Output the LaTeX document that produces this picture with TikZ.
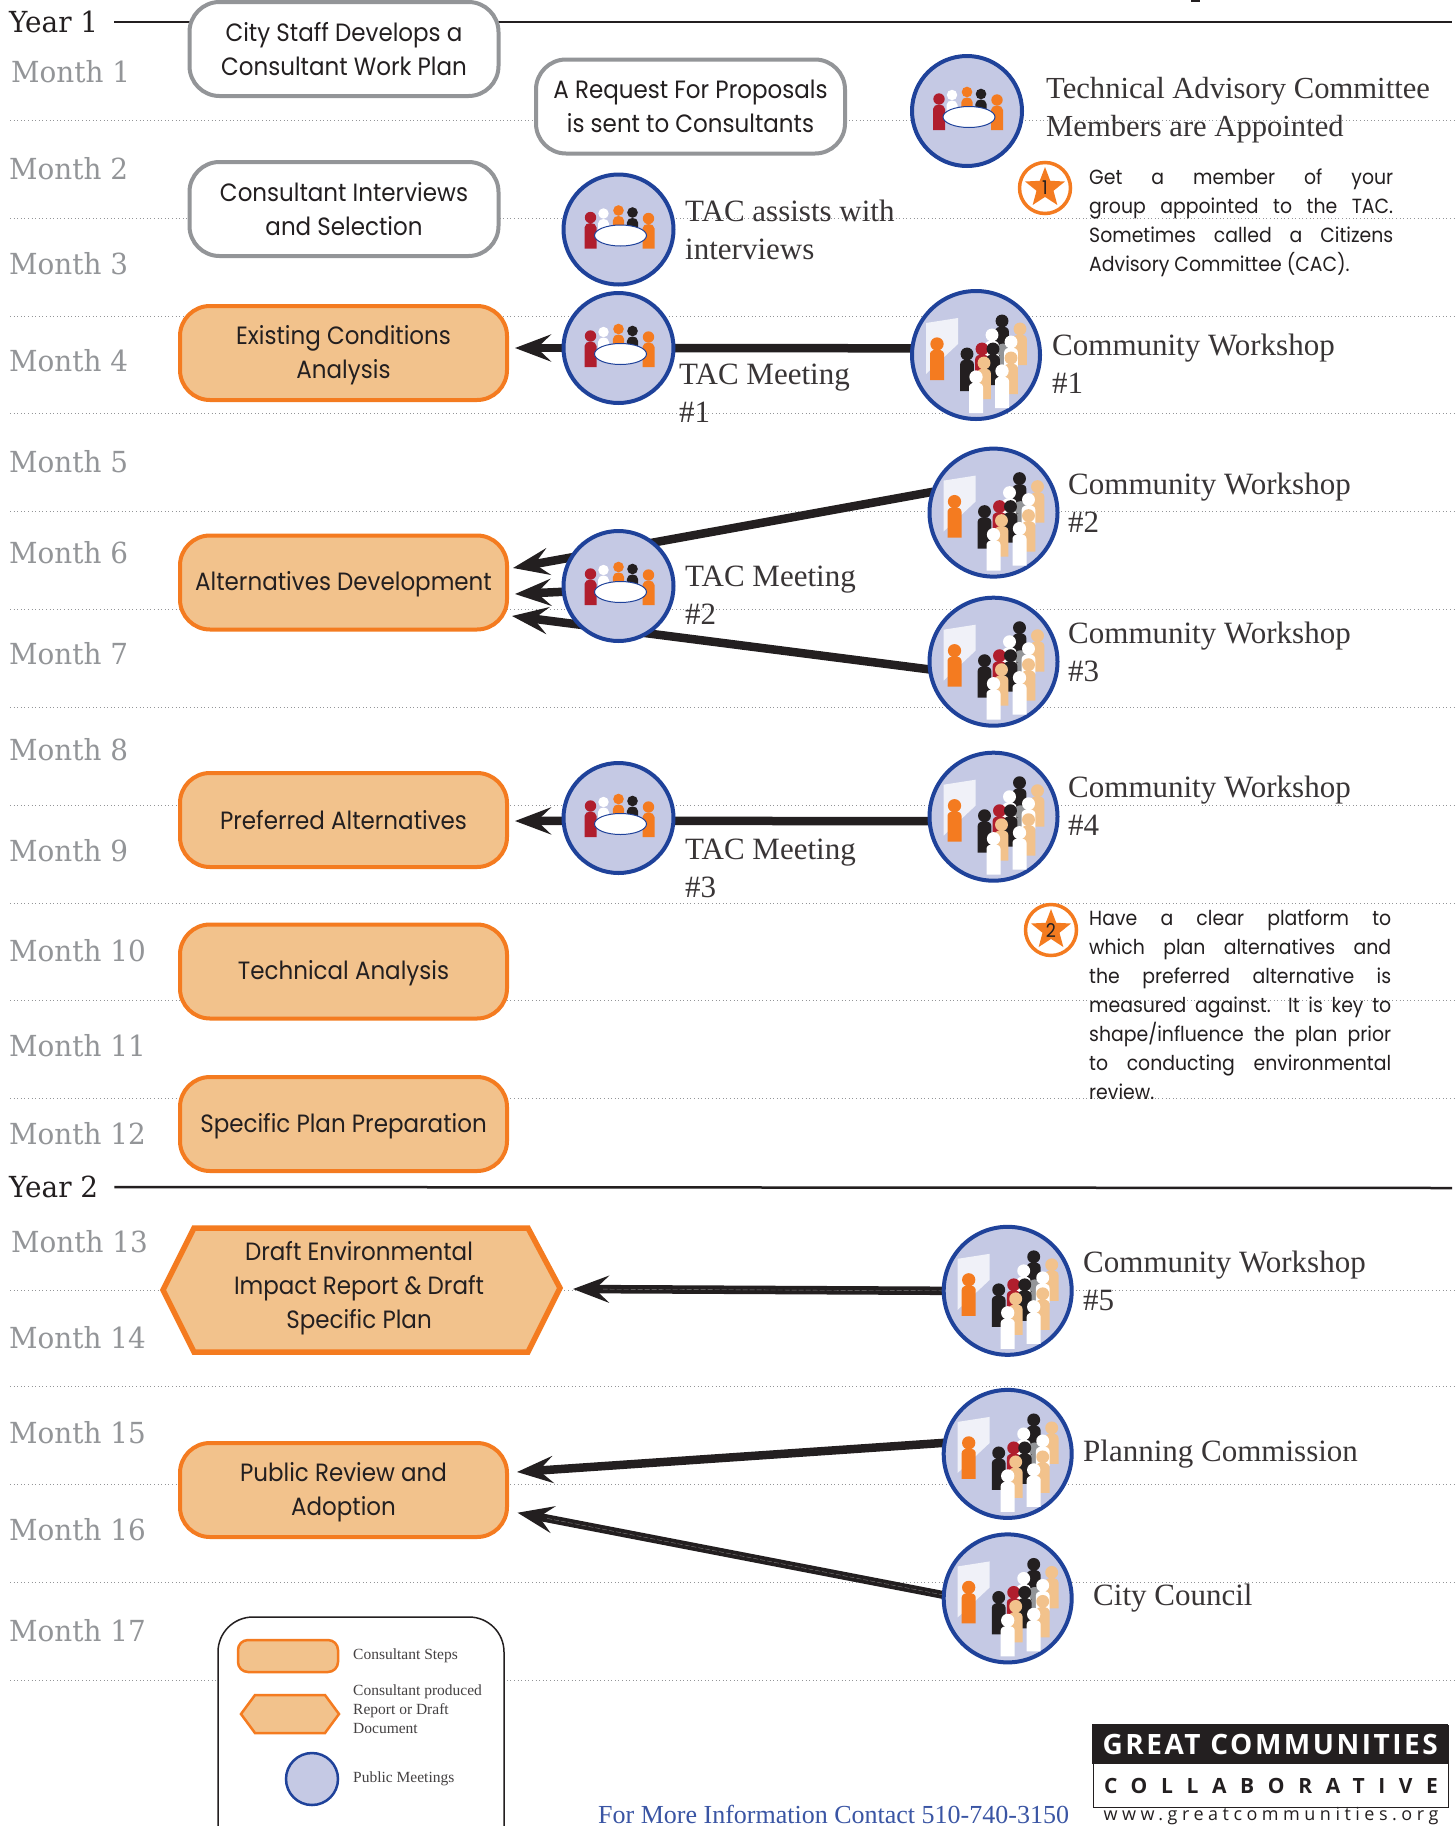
\documentclass[tikz,border=0pt]{standalone}
\usepackage{fontspec}
\usetikzlibrary{arrows.meta,shapes.geometric}
\setmainfont{Liberation Serif}
\newfontfamily\futura[FakeStretch=0.92]{Poppins}
\newfontfamily\slab[FakeStretch=0.96]{DejaVu Serif}
\newfontfamily\logoA[LetterSpace=9]{Open Sans}
\newfontfamily\logoB[LetterSpace=65]{Open Sans}
\newfontfamily\logoC[LetterSpace=25]{Open Sans}
\definecolor{peach}{HTML}{F2C28C}
\definecolor{org}{HTML}{F47B20}
\definecolor{blu}{HTML}{1F429A}
\definecolor{lav}{HTML}{C5C9E4}
\definecolor{gry}{HTML}{939598}
\definecolor{ink}{HTML}{231F20}
\definecolor{rd}{HTML}{B01E2D}
\definecolor{scr}{HTML}{F0F1F8}
\definecolor{linkblue}{HTML}{3A55A4}
\pgfdeclarelayer{bg}\pgfsetlayers{bg,main}
\newcommand{\pk}{\rule{0pt}{23pt}}
\newcommand{\prs}[5]{% colour, x, head y, bottom y, half width
  \fill[#1] (#2,#3) circle[radius=0.95*#5];
  \fill[#1] ({#2-#5},#4) -- ({#2-#5},{#3+10}) .. controls ({#2-#5},{#3+4}) and ({#2+#5},{#3+4}) .. ({#2+#5},{#3+10}) -- ({#2+#5},#4) -- cycle;}
\newcommand{\tacicon}[1]{\begin{scope}[shift={(#1.center)}]
  \prs{white}{-15}{-16}{4}{5.5}
  \prs{org}{0}{-19}{4}{5.6}
  \prs{ink}{14}{-17}{4}{5.6}
  \prs{rd}{-28}{-12}{19}{6}
  \prs{org}{30}{-11}{19}{6}
  \draw[blu,fill=white,line width=1] (2,6) ellipse[x radius=26,y radius=10.5];
\end{scope}}
\newcommand{\commicon}[1]{\begin{scope}[shift={(#1.center)}]
  \fill[scr] (-50,-32) -- (-18,-37) -- (-18,-11) -- (-50,19) -- cycle;
  \prs{org}{-39}{-11}{25}{7}
  \prs{ink}{26}{-34}{5}{6.8}
  \prs{peach}{44}{-26}{10}{6.8}
  \prs{white}{16}{-20}{10}{6.8}
  \prs{gry}{27}{-5}{12}{6.8}
  \prs{white}{35}{-13}{12}{6.8}
  \prs{rd}{6}{-6}{19}{6.8}
  \prs{ink}{17}{-6}{30}{6.8}
  \prs{ink}{-9}{-1}{36}{6.8}
  \prs{peach}{35}{3}{39}{6.8}
  \prs{peach}{8}{8}{44}{6.8}
  \prs{white}{26}{16}{53}{7}
  \prs{white}{0}{22}{58}{7}
\end{scope}}
\tikzset{
  graybox/.style={draw=gry,line width=4,fill=white,rounded corners=30,minimum width=309,minimum height=94,inner sep=0,font=\futura\fontsize{25}{34}\selectfont,text=ink,align=center},
  peachbox/.style={draw=org,line width=4,fill=peach,rounded corners=30,minimum width=327,minimum height=94,inner sep=0,font=\futura\fontsize{25}{34}\selectfont,text=ink,align=center},
  tac/.style={circle,draw=blu,fill=lav,line width=4,minimum size=110,inner sep=0,outer sep=0},
  comm/.style={circle,draw=blu,fill=lav,line width=4,minimum size=128,inner sep=0,outer sep=0},
  lab/.style={anchor=west,inner sep=0,text=ink!90,font=\fontsize{31}{38}\selectfont,align=left},
  small/.style={anchor=west,inner sep=0,text=ink!85,font=\fontsize{15.5}{19}\selectfont,align=left},
  note/.style={anchor=north west,inner sep=0,text=ink,font=\futura\fontsize{20.5}{29}\selectfont,align=left},
  monthlab/.style={anchor=west,inner sep=0,text=gry,font=\slab\fontsize{29}{32}\selectfont},
  yearlab/.style={anchor=west,inner sep=0,text=ink,font=\slab\fontsize{29}{32}\selectfont},
  dotline/.style={gry,line width=1,dash pattern=on 1pt off 2.6pt},
  yearline/.style={ink,line width=2.5},
  conn/.style={ink,line width=8.5,-{Stealth[length=36,width=27,inset=14]}},
  core/.style={ink!60,line width=0.4,dash pattern=on 5pt off 2pt,shorten >=30},
  badge/.style={circle,draw=org,fill=white,line width=3.5,minimum size=51,inner sep=0},
  starshp/.style={star,star points=5,star point ratio=2.35,fill=org,minimum size=42,inner sep=0},
  badgenum/.style={inner sep=0,text=ink,font=\futura\fontsize{19}{20}\selectfont},
}
\begin{document}
\begin{tikzpicture}[x=1pt,y=-1pt]
\useasboundingbox (0,0) rectangle (1455,1826);
\clip (0,0) rectangle (1455,1826);
% tiny fragment at the top edge
\fill[ink] (1191,0) rectangle (1200,2);
% month labels
\node[yearlab] (y1) at (9,22) {Year 1};
\node[yearlab] (y2) at (9,1187) {Year 2};
\foreach \n/\x/\y in {1/11/72,2/9/169,3/9/264,4/9/361,5/9/462,6/9/553,7/9/654,8/9/750,9/9/851,10/9/951,11/9/1046,12/9/1134,13/11/1242,14/9/1338,15/9/1433,16/9/1530,17/9/1631}
  \node[monthlab] (m\n) at (\x,\y) {Month \n};
% process boxes
\node[graybox] (work) at (344,49) {City Staff Develops a\\Consultant Work Plan};
\node[graybox] (rfp) at (690.5,106.5) {A Request For Proposals\\is sent to Consultants};
\node[graybox] (inter) at (344,209) {Consultant Interviews\\and Selection};
\node[peachbox] (exist) at (343.5,353) {\pk Existing Conditions\\Analysis};
\node[peachbox] (alt) at (343.5,582.5) {\pk Alternatives Development};
\node[peachbox] (pref) at (343.5,820) {Preferred Alternatives};
\node[peachbox] (tech) at (343.5,971.5) {\pk Technical Analysis};
\node[peachbox] (spec) at (343.5,1124) {\pk Specific Plan Preparation};
\node[peachbox] (pub) at (343.5,1490) {\pk Public Review and\\Adoption};
\draw[draw=org,fill=peach,line width=5.5] (163,1290) -- (194,1228) -- (528,1228) -- (560,1288) -- (528,1352) -- (194,1352) -- cycle;
\node[inner sep=0,text=ink,font=\futura\fontsize{25}{34}\selectfont,align=center] (hex) at (359,1288) {Draft Environmental\\Impact Report \& Draft\\Specific Plan};
% meeting circles
\node[tac] (t0) at (967,111) {}; \tacicon{t0}
\node[tac] (ta) at (618.5,229.5) {}; \tacicon{ta}
\node[tac] (t1) at (618.5,348) {}; \tacicon{t1}
\node[tac] (t2) at (618.5,586) {}; \tacicon{t2}
\node[tac] (t3) at (618.5,818) {}; \tacicon{t3}
\node[comm] (c1) at (976,355) {}; \commicon{c1}
\node[comm] (c2) at (993.5,512.6) {}; \commicon{c2}
\node[comm] (c3) at (993.5,661.7) {}; \commicon{c3}
\node[comm] (c4) at (993.5,816.7) {}; \commicon{c4}
\node[comm] (c5) at (1007.7,1290.8) {}; \commicon{c5}
\node[comm] (pc) at (1007.7,1453.9) {}; \commicon{pc}
\node[comm] (cc) at (1007.7,1598.4) {}; \commicon{cc}
% labels
\node[lab,font=\fontsize{30.6}{38}\selectfont] (l0) at (1046,110.5) {Technical Advisory Committee\\Members are Appointed};
\node[lab] (la) at (685,230) {TAC assists with\\interviews};
\node[lab] (l1) at (679,393) {TAC Meeting\\\#1};
\node[lab] (l2) at (685,595) {TAC Meeting\\\#2};
\node[lab] (l3) at (685,868) {TAC Meeting\\\#3};
\node[lab] (w1) at (1052,364) {Community Workshop\\\#1};
\node[lab] (w2) at (1068,503) {Community Workshop\\\#2};
\node[lab] (w3) at (1068,652) {Community Workshop\\\#3};
\node[lab] (w4) at (1068,806) {Community Workshop\\\#4};
\node[lab] (w5) at (1083,1281) {Community Workshop\\\#5};
\node[lab] (wp) at (1083,1454) {Planning Commission};
\node[lab] (wc) at (1093,1598) {City Council};
% notes
\node[badge] (b1) at (1045,188) {};
\node[starshp] (s1) at (b1) {};
\node[badgenum] (n1) at (b1) {1};
\node[note] (note1) at (1089,169) {\makebox[304pt][s]{Get a member of your}\\\makebox[304pt][s]{group appointed to the TAC.}\\\makebox[304pt][s]{Sometimes called a Citizens}\\Advisory Committee (CAC).};
\node[badge] (b2) at (1051,930) {};
\node[starshp] (s2) at (b2) {};
\node[badgenum] (n2) at (b2) {2};
\node[note] (note2) at (1089,910) {\makebox[302pt][s]{Have a clear platform to}\\\makebox[302pt][s]{which plan alternatives and}\\\makebox[302pt][s]{the preferred alternative is}\\\makebox[302pt][s]{measured against.\ \ It is key to}\\\makebox[302pt][s]{shape/influence the plan prior}\\\makebox[302pt][s]{to conducting environmental}\\review.};
% legend
\draw[ink,fill=white,line width=1.5,rounded corners=35] (218,1617) rectangle (504,1900);
\node[draw=org,fill=peach,line width=2.5,rounded corners=10,minimum width=100,minimum height=32,inner sep=0] (k1) at (288,1656) {};
\draw[draw=org,fill=peach,line width=2.5] (241,1714) -- (255,1695) -- (325,1695) -- (339,1714) -- (325,1733) -- (255,1733) -- cycle;
\node[circle,draw=blu,fill=lav,line width=2.5,minimum size=52,inner sep=0] (k3) at (312,1779) {};
\node[small] (k1t) at (353,1656) {Consultant Steps};
\node[small] (k2t) at (353,1709) {Consultant produced\\Report or Draft\\Document};
\node[small] (k3t) at (353,1779) {Public Meetings};
% footer
\node[anchor=base west,inner sep=0,text=linkblue,font=\fontsize{26}{28}\selectfont] (foot) at (598,1823) {For More Information Contact 510-740-3150};
\node[draw=ink,fill=white,line width=1.5,minimum width=355,minimum height=82,inner sep=0,anchor=north west] (logo) at (1092.5,1724.5) {};
\node[fill=ink,minimum width=356,minimum height=40,inner sep=0,anchor=north west,text=white,font=\logoA\bfseries\fontsize{28}{30}\selectfont] (logoA) at (1092,1724) {GREAT COMMUNITIES};
\node[inner sep=0,text=ink,font=\logoB\bfseries\fontsize{21}{24}\selectfont] (logoB) at (1271,1786) {COLLABORATIVE};
\node[inner sep=0,text=ink,font=\logoC\fontsize{18}{20}\selectfont] (logoC) at (1271,1816) {www.greatcommunities.org};
% background lines and connectors
\begin{pgfonlayer}{bg}
\fill[white] (0,0) rectangle (1455,1826);
\foreach \y in {120,218,316,413.5,511,609,707,805,903,1000,1098,1290,1386,1484,1582,1680}
  \draw[dotline] (10,\y) -- (1455,\y);
\draw[yearline] (y1.east) ++(16,0) -- (1452,22);
\draw[yearline] (y2.east) ++(16,0) -- (1452,1188);
\coordinate (tip1) at (515,348);
\coordinate (tip2a) at (513,568);
\coordinate (tip2b) at (515,594);
\coordinate (tip2c) at (512,616);
\coordinate (tip3) at (515,821);
\coordinate (tip5) at (573,1289);
\coordinate (tipP) at (517,1472);
\coordinate (tipC) at (517.5,1512.7);
\draw[ink,line width=8.5] (t1.center) -- (c1.174);
\draw[conn] (t1) -- (tip1);
\draw[conn] (c2.161) -- (tip2a);
\draw[conn] (t2.186) -- (tip2b);
\draw[conn] (c3.187) -- (tip2c);
\draw[ink,line width=8.5] (t3.357) -- (c4.184);
\draw[conn] (t3.183) -- (tip3);
\draw[conn] (c5.180) -- (tip5);
\draw[core] (c5.180) -- (tip5);
\draw[conn] (pc.170) -- (tipP);
\draw[conn,line width=8] (cc.177) -- (tipC);
\draw[core] (cc.177) -- (tipC);
\end{pgfonlayer}
\end{tikzpicture}
\end{document}
